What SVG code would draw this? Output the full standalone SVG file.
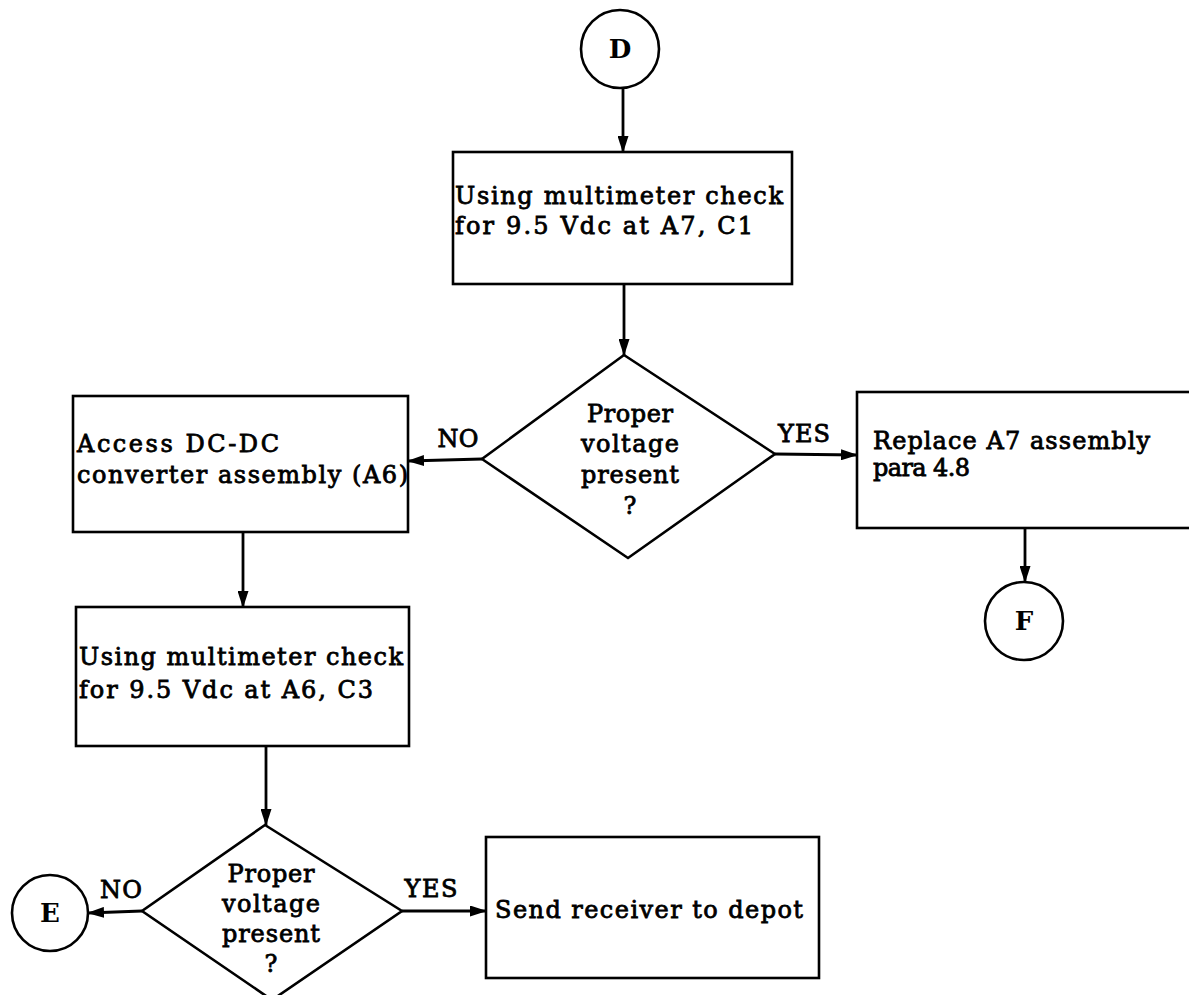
<svg xmlns="http://www.w3.org/2000/svg" width="1189" height="995" viewBox="0 0 1189 995">
<defs>
<marker id="ah" markerWidth="17" markerHeight="11" refX="16" refY="5.5" orient="auto" markerUnits="userSpaceOnUse">
<path d="M0,0 L17,5.5 L0,11 Z" fill="#000"/>
</marker>
<style>
.s{fill:#fff;stroke:#000;stroke-width:2.6}
.c{fill:none;stroke:#000;stroke-width:2.8;marker-end:url(#ah)}
text{font-family:"DejaVu Serif","Liberation Serif",serif;font-size:24px;fill:#000;stroke:#000;stroke-width:0.8}
.m{text-anchor:middle}
.b{font-weight:bold;font-size:26px;stroke-width:0}
</style>
</defs>
<rect width="1189" height="995" fill="#fff"/>
<g id="connectors">
<line class="c" x1="623" y1="88" x2="623" y2="152"/>
<line class="c" x1="624" y1="284" x2="624" y2="355"/>
<line class="c" x1="482" y1="459" x2="408" y2="461"/>
<line class="c" x1="775" y1="454" x2="857" y2="455"/>
<line class="c" x1="1025" y1="528" x2="1025" y2="582"/>
<line class="c" x1="243" y1="532" x2="243" y2="607"/>
<line class="c" x1="266" y1="746" x2="266" y2="825"/>
<line class="c" x1="142" y1="911" x2="88" y2="913"/>
<line class="c" x1="402" y1="911" x2="486" y2="911"/>
<text x="458" y="447" class="m" textLength="41">NO</text>
<text x="804" y="442" class="m" textLength="52">YES</text>
<text x="121" y="898" class="m" textLength="42">NO</text>
<text x="431" y="897" class="m" textLength="53">YES</text>
</g>
<g id="nodeD">
<circle class="s" cx="620" cy="49" r="39"/>
<text x="620" y="58" class="m b">D</text>
</g>
<g id="box1">
<rect class="s" x="453" y="152" width="339" height="132"/>
<text x="455" y="204" textLength="328">Using multimeter check</text>
<text x="455" y="234" textLength="298">for 9.5 Vdc at A7, C1</text>
</g>
<g id="dec1">
<polygon class="s" points="624,355 775,454 628,558 482,459"/>
<text x="630" y="422" class="m" textLength="86">Proper</text>
<text x="630" y="452" class="m" textLength="98">voltage</text>
<text x="630" y="483" class="m" textLength="98">present</text>
<text x="630" y="514" class="m">?</text>
</g>
<g id="box2">
<rect class="s" x="73" y="396" width="335" height="136"/>
<text x="77" y="452" textLength="202">Access DC-DC</text>
<text x="77" y="483" textLength="331">converter assembly (A6)</text>
</g>
<g id="box3">
<rect class="s" x="857" y="392" width="345" height="136"/>
<text x="873" y="449" textLength="277">Replace A7 assembly</text>
<text x="873" y="476" textLength="97">para 4.8</text>
</g>
<g id="nodeF">
<circle class="s" cx="1024" cy="621" r="39"/>
<text x="1024" y="630" class="m b">F</text>
</g>
<g id="box4">
<rect class="s" x="76" y="607" width="333" height="139"/>
<text x="79" y="665" textLength="324">Using multimeter check</text>
<text x="79" y="698" textLength="294">for 9.5 Vdc at A6, C3</text>
</g>
<g id="dec2">
<polygon class="s" points="265,825 402,911 272,1000 142,911"/>
<text x="271" y="882" class="m" textLength="87">Proper</text>
<text x="271" y="912" class="m" textLength="98">voltage</text>
<text x="271" y="942" class="m" textLength="98">present</text>
<text x="271" y="972" class="m">?</text>
</g>
<g id="nodeE">
<circle class="s" cx="50" cy="913" r="38"/>
<text x="50" y="922" class="m b">E</text>
</g>
<g id="box5">
<rect class="s" x="486" y="837" width="333" height="141"/>
<text x="495" y="918" textLength="308">Send receiver to depot</text>
</g>
</svg>
